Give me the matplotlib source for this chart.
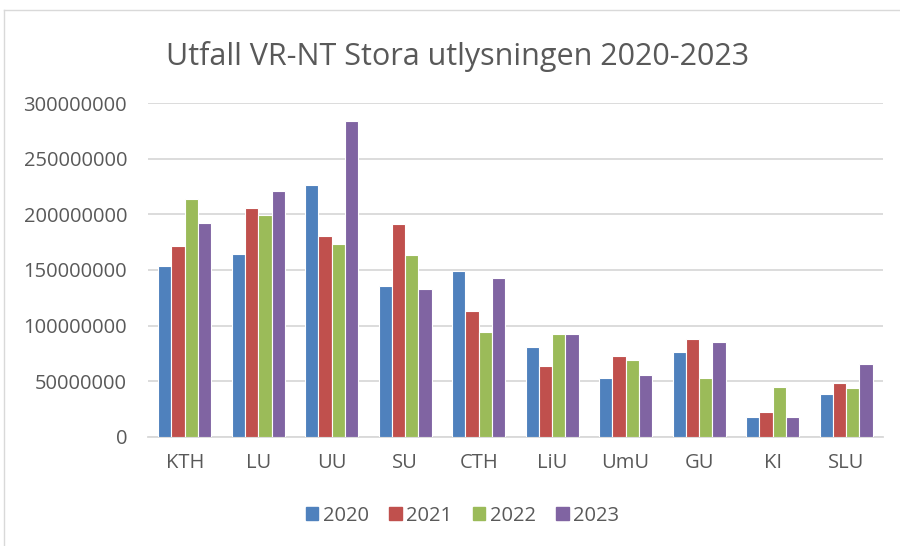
import matplotlib
matplotlib.use("Agg")
import matplotlib.pyplot as plt
import numpy as np
from matplotlib.lines import Line2D

categories = ["KTH", "LU", "UU", "SU", "CTH", "LiU", "UmU", "GU", "KI", "SLU"]
years = ["2020", "2021", "2022", "2023"]
v2020 = [153300000, 164100000, 226500000, 135600000, 149100000, 80700000, 52800000, 76500000, 18000000, 38400000]
v2021 = [171600000, 205800000, 180600000, 191700000, 113100000, 63900000, 72300000, 87600000, 21900000, 48300000]
v2022 = [213600000, 199500000, 173700000, 163800000, 93900000, 92400000, 68700000, 52800000, 44700000, 43800000]
v2023 = [192300000, 221100000, 284300000, 132900000, 142800000, 92100000, 55500000, 85500000, 18000000, 65100000]
series = [v2020, v2021, v2022, v2023]
colors = ["#4F81BD", "#C0504D", "#9BBB59", "#8064A2"]
yticks = [0, 50000000, 100000000, 150000000, 200000000, 250000000, 300000000]

plt.rcParams['font.family'] = ['Open Sans', 'DejaVu Sans']
txt = "#595959"
fs = 14.5

fig = plt.figure(figsize=(9, 5.46), dpi=100)
ax = fig.add_axes([0.1644, 0.2002, 0.981 - 0.1644, 0.8108 - 0.2002])

x = np.arange(len(categories))
w = 0.181
for i, (vals, c, lab) in enumerate(zip(series, colors, years)):
    ax.bar(x + (i - 1.5) * w, vals, width=w, color=c, edgecolor="white", linewidth=0.8, label=lab, zorder=3)

ax.set_xlim(-0.5, len(categories) - 0.5)
ax.set_ylim(0, 300000000)
ax.set_yticks(yticks)
ax.set_yticklabels([str(v) for v in yticks], fontsize=fs, color=txt)
ax.set_xticks(x)
ax.set_xticklabels(categories, fontsize=fs, color=txt)
ax.tick_params(length=0)
ax.tick_params(axis='y', pad=15)
ax.tick_params(axis='x', pad=12)
ax.grid(axis='y', color="#d9d9d9", linewidth=1.3, zorder=0)
for s in ["top", "right", "left"]:
    ax.spines[s].set_visible(False)
ax.spines["bottom"].set_color("#d9d9d9")
ax.spines["bottom"].set_linewidth(1.3)

fig.text(0.508, 1 - 65 / 546, "Utfall VR-NT Stora utlysningen 2020-2023", ha="center", va="baseline",
         fontsize=22, color=txt)

handles = [plt.Rectangle((0, 0), 1, 1, color=c) for c in colors]
fig.legend(handles, years, loc="center", bbox_to_anchor=(0.514, 0.0555), ncol=4, frameon=False,
           fontsize=fs, labelcolor=txt, handlelength=0.63, handleheight=0.63, handletextpad=0.23,
           columnspacing=1.0)

# chart border
fig.add_artist(Line2D([4 / 900, 4 / 900], [0, 1 - 10 / 546], transform=fig.transFigure, color="#d9d9d9", linewidth=1))
fig.add_artist(Line2D([4 / 900, 1], [1 - 10 / 546, 1 - 10 / 546], transform=fig.transFigure, color="#d9d9d9", linewidth=1))

fig.savefig("out.png", dpi=100)
